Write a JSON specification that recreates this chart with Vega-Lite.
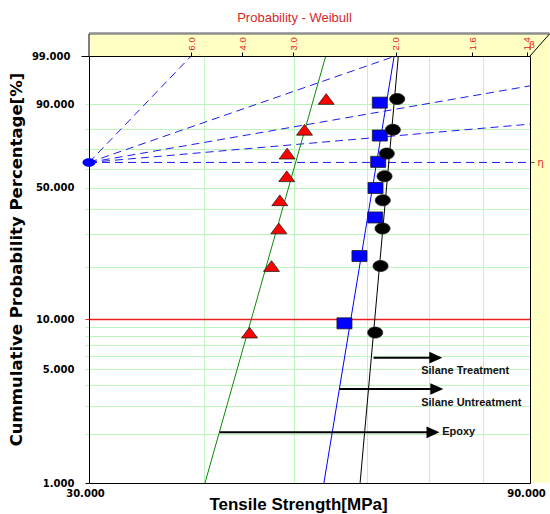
{
  "$schema": "https://vega.github.io/schema/vega-lite/v6.json",
  "width": 441,
  "height": 427,
  "autosize": {"type": "none"},
  "padding": {"left": 89, "top": 56, "right": 20, "bottom": 31},
  "background": "white",
  "config": {"view": {"stroke": null}},
  "title": {"text": "Probability - Weibull", "font": "Liberation Sans", "fontSize": 13, "fontWeight": "normal", "color": "#d42a2a", "anchor": "middle", "dx": -15, "dy": 15, "baseline": "alphabetic", "offset": 12},
  "datasets": {
    "bands": [
      {"x1": 30, "x2": 94.5, "q1": 1.52718, "q2": 1.845},
      {"x1": 90, "x2": 94.5, "q1": -4.60015, "q2": 1.52718}
    ],
    "topline": [{"x1": 30, "x2": 94.5, "q": 1.849}],
    "edges": [
      {"x1": 30, "x2": 30, "q1": 1.52718, "q2": 1.845},
      {"x1": 90, "x2": 94.5, "q1": 1.52718, "q2": 1.845}
    ],
    "beta": [
      {"beta": 6, "x1": 30, "q1": 0, "x2": 38.696, "q2": 1.52718},
      {"beta": 2, "x1": 30, "q1": 0, "x2": 64.377, "q2": 1.52718},
      {"beta": 1, "x1": 30, "q1": 0, "x2": 90, "q2": 1.09861},
      {"beta": 0.5, "x1": 30, "q1": 0, "x2": 90, "q2": 0.54931},
      {"beta": 0, "x1": 30, "q1": 0, "x2": 90, "q2": 0}
    ],
    "pivot": [{"x": 30, "q": 0}],
    "fits": [
      {"series": "Epoxy", "x1": 40.05, "q1": -4.60015, "x2": 54.11, "q2": 1.52718},
      {"series": "Silane Untreatment", "x1": 53.86, "q1": -4.60015, "x2": 64.16, "q2": 1.52718},
      {"series": "Silane Treatment", "x1": 58.94, "q1": -4.60015, "x2": 64.83, "q2": 1.52718}
    ],
    "arrows": [
      {"label": "Silane Treatment", "xs": 60.95, "xe": 71.18, "q": -2.8022, "tx": 68.63, "tq": -2.993},
      {"label": "Silane Untreatment", "xs": 56.0, "xe": 71.36, "q": -3.2513, "tx": 68.63, "tq": -3.4565},
      {"label": "Epoxy", "xs": 41.53, "xe": 70.68, "q": -3.8726, "tx": 72.32, "tq": -3.8726}
    ],
    "betaLabel": [{"x": 90.45, "q": 1.6922, "t": "β"}],
    "points": [
      {"series": "Epoxy", "strength": 44.75, "F": 8.33, "q": -2.44172},
      {"series": "Epoxy", "strength": 47.27, "F": 20.24, "q": -1.48667},
      {"series": "Epoxy", "strength": 48.14, "F": 32.14, "q": -0.94734},
      {"series": "Epoxy", "strength": 48.26, "F": 44.05, "q": -0.54358},
      {"series": "Epoxy", "strength": 49.10, "F": 55.95, "q": -0.19858},
      {"series": "Epoxy", "strength": 49.15, "F": 67.86, "q": 0.12662},
      {"series": "Epoxy", "strength": 51.32, "F": 79.76, "q": 0.46849},
      {"series": "Epoxy", "strength": 54.17, "F": 91.67, "q": 0.91024},
      {"series": "Silane Untreatment", "strength": 56.69, "F": 9.46, "q": -2.30887},
      {"series": "Silane Untreatment", "strength": 58.85, "F": 22.97, "q": -1.34317},
      {"series": "Silane Untreatment", "strength": 61.20, "F": 36.49, "q": -0.78986},
      {"series": "Silane Untreatment", "strength": 61.25, "F": 50.0, "q": -0.36651},
      {"series": "Silane Untreatment", "strength": 61.66, "F": 63.51, "q": 0.00819},
      {"series": "Silane Untreatment", "strength": 61.91, "F": 77.03, "q": 0.38584},
      {"series": "Silane Untreatment", "strength": 61.91, "F": 90.54, "q": 0.85788},
      {"series": "Silane Treatment", "strength": 61.20, "F": 8.33, "q": -2.44172},
      {"series": "Silane Treatment", "strength": 62.02, "F": 20.24, "q": -1.48667},
      {"series": "Silane Treatment", "strength": 62.33, "F": 32.14, "q": -0.94734},
      {"series": "Silane Treatment", "strength": 62.37, "F": 44.05, "q": -0.54358},
      {"series": "Silane Treatment", "strength": 62.64, "F": 55.95, "q": -0.19858},
      {"series": "Silane Treatment", "strength": 63.00, "F": 67.86, "q": 0.12662},
      {"series": "Silane Treatment", "strength": 63.95, "F": 79.76, "q": 0.46849},
      {"series": "Silane Treatment", "strength": 64.65, "F": 91.67, "q": 0.91024}
    ]
  },
  "layer": [
    {
      "data": {"name": "bands"},
      "mark": {"type": "rect", "fill": "#ffffc4", "stroke": null},
      "encoding": {
        "x": {"field": "x1", "type": "quantitative", "scale": {"type": "log", "domain": [30, 90], "nice": false}, "axis": null},
        "x2": {"field": "x2"},
        "y": {"field": "q1", "type": "quantitative", "scale": {"domain": [-4.60015, 1.52718], "nice": false, "zero": false}, "axis": null},
        "y2": {"field": "q2"}
      }
    },
    {
      "data": {"name": "topline"},
      "mark": {"type": "rule", "color": "#8e8e8e", "strokeWidth": 2.5},
      "encoding": {
        "x": {"field": "x1", "type": "quantitative", "scale": {"type": "log", "domain": [30, 90], "nice": false}, "axis": null},
        "x2": {"field": "x2"},
        "y": {"field": "q", "type": "quantitative", "scale": {"domain": [-4.60015, 1.52718], "nice": false, "zero": false}, "axis": null}
      }
    },
    {
      "data": {"name": "edges"},
      "mark": {"type": "rule", "color": "black", "strokeWidth": 1},
      "encoding": {
        "x": {"field": "x1", "type": "quantitative", "scale": {"type": "log", "domain": [30, 90], "nice": false}, "axis": null},
        "x2": {"field": "x2"},
        "y": {"field": "q1", "type": "quantitative", "scale": {"domain": [-4.60015, 1.52718], "nice": false, "zero": false}, "axis": null},
        "y2": {"field": "q2"}
      }
    },
    {
      "data": {"name": "beta"},
      "mark": {"type": "rule", "color": "#1c1cf0", "strokeWidth": 1, "strokeDash": [8, 5]},
      "encoding": {
        "x": {"field": "x1", "type": "quantitative", "scale": {"type": "log", "domain": [30, 90], "nice": false},
          "axis": {"orient": "top", "values": [38.696, 43.947, 49.91, 64.377, 77.92, 89.3],
            "labelExpr": "datum.value < 40 ? '6.0' : datum.value < 45 ? '4.0' : datum.value < 55 ? '3.0' : datum.value < 70 ? '2.0' : datum.value < 80 ? '1.6' : '1.4'",
            "labelAngle": 270, "labelAlign": "left", "labelBaseline": "middle", "labelColor": "#e02020", "labelFont": "Liberation Sans", "labelFontSize": 9.5,
            "labelPadding": 2, "ticks": true, "tickSize": 4, "tickColor": "black", "domain": true, "domainColor": "black", "grid": false, "title": null,
            "zindex": 1, "labelFlush": false, "labelOverlap": false, "labelBound": false}},
        "x2": {"field": "x2"},
        "y": {"field": "q1", "type": "quantitative", "scale": {"domain": [-4.60015, 1.52718], "nice": false, "zero": false}, "axis": null},
        "y2": {"field": "q2"}
      }
    },
    {
      "data": {"name": "pivot"},
      "mark": {"type": "point", "filled": true, "fill": "#0000ff", "opacity": 1, "size": 169, "shape": "M-1,0A1,0.65,0,1,0,1,0A1,0.65,0,1,0,-1,0Z"},
      "encoding": {
        "x": {"field": "x", "type": "quantitative", "scale": {"type": "log", "domain": [30, 90], "nice": false}, "axis": null},
        "y": {"field": "q", "type": "quantitative", "scale": {"domain": [-4.60015, 1.52718], "nice": false, "zero": false},
          "axis": {"orient": "right", "values": [0], "labelExpr": "'η'", "labelColor": "#e02020", "labelFont": "DejaVu Sans", "labelFontSize": 10,
            "labelPadding": 3, "ticks": true, "tickSize": 4, "tickColor": "#606060", "domain": true, "domainColor": "black", "grid": false, "title": null, "zindex": 1}}
      }
    },
    {
      "data": {"name": "fits"},
      "mark": {"type": "rule", "strokeWidth": 1},
      "encoding": {
        "x": {"field": "x1", "type": "quantitative", "scale": {"type": "log", "domain": [30, 90], "nice": false}, "axis": null},
        "x2": {"field": "x2"},
        "y": {"field": "q1", "type": "quantitative", "scale": {"domain": [-4.60015, 1.52718], "nice": false, "zero": false}, "axis": null},
        "y2": {"field": "q2"},
        "stroke": {"field": "series", "type": "nominal", "scale": {"domain": ["Epoxy", "Silane Untreatment", "Silane Treatment"], "range": ["#0a8a0a", "#0000ff", "#000000"]}, "legend": null}
      }
    },
    {
      "data": {"name": "arrows"},
      "mark": {"type": "rule", "color": "black", "strokeWidth": 2},
      "encoding": {
        "x": {"field": "xs", "type": "quantitative", "scale": {"type": "log", "domain": [30, 90], "nice": false}, "axis": null},
        "x2": {"field": "xe"},
        "y": {"field": "q", "type": "quantitative", "scale": {"domain": [-4.60015, 1.52718], "nice": false, "zero": false}, "axis": null}
      }
    },
    {
      "data": {"name": "arrows"},
      "mark": {"type": "point", "filled": true, "fill": "black", "opacity": 1, "size": 169, "shape": "M-1,-0.9L1,0L-1,0.9Z"},
      "encoding": {
        "x": {"field": "xe", "type": "quantitative", "scale": {"type": "log", "domain": [30, 90], "nice": false}, "axis": null},
        "y": {"field": "q", "type": "quantitative", "scale": {"domain": [-4.60015, 1.52718], "nice": false, "zero": false}, "axis": null}
      }
    },
    {
      "data": {"name": "arrows"},
      "mark": {"type": "text", "align": "left", "baseline": "middle", "font": "Liberation Sans", "fontSize": 11, "fontWeight": "bold", "color": "#111111"},
      "encoding": {
        "x": {"field": "tx", "type": "quantitative", "scale": {"type": "log", "domain": [30, 90], "nice": false}, "axis": null},
        "y": {"field": "tq", "type": "quantitative", "scale": {"domain": [-4.60015, 1.52718], "nice": false, "zero": false}, "axis": null},
        "text": {"field": "label"}
      }
    },
    {
      "data": {"name": "betaLabel"},
      "mark": {"type": "text", "align": "center", "baseline": "middle", "font": "Liberation Sans", "fontSize": 9, "color": "#e02020"},
      "encoding": {
        "x": {"field": "x", "type": "quantitative", "scale": {"type": "log", "domain": [30, 90], "nice": false}, "axis": null},
        "y": {"field": "q", "type": "quantitative", "scale": {"domain": [-4.60015, 1.52718], "nice": false, "zero": false}, "axis": null},
        "text": {"field": "t"}
      }
    },
    {
      "data": {"name": "points"},
      "mark": {"type": "point", "filled": true, "opacity": 1, "size": 256, "stroke": "#202020", "strokeWidth": 0.8},
      "encoding": {
        "x": {"field": "strength", "type": "quantitative", "scale": {"type": "log", "domain": [30, 90], "nice": false},
          "axis": {"orient": "bottom", "values": [30, 40, 50, 60, 70, 80, 90],
            "labelExpr": "datum.value == 30 || datum.value == 90 ? format(datum.value, '.3f') : ''",
            "labelFlush": false, "labelOverlap": false, "labelBound": false, "ticks": false, "labelPadding": 5, "labelOffset": -4,
            "labelFont": "DejaVu Sans", "labelFontWeight": "bold", "labelFontSize": 10, "labelColor": "black",
            "grid": true, "gridColor": "#bdf5bd", "gridWidth": 1, "domain": true, "domainColor": "black",
            "title": "Tensile Strength[MPa]", "titleFont": "Liberation Sans", "titleFontSize": 17, "titleFontWeight": "bold", "titleColor": "black",
            "titleX": 209, "titleY": 26.5, "titleAlign": "center", "titleBaseline": "alphabetic"}},
        "y": {"field": "q", "type": "quantitative", "scale": {"domain": [-4.60015, 1.52718], "nice": false, "zero": false},
          "axis": {"orient": "left",
            "values": [-4.60015, -3.90194, -3.49137, -3.19853, -2.9702, -2.78263, -2.62319, -2.48433, -2.36125, -2.25037, -1.49994, -1.03093, -0.67173, -0.36651, -0.08742, 0.18563, 0.47588, 0.83403, 1.52718],
            "labelExpr": "indexof([1, 5, 10, 50, 90, 99], round(100 * (1 - exp(-exp(datum.value))))) >= 0 ? format(100 * (1 - exp(-exp(datum.value))), '.3f') : ''",
            "labelOverlap": false, "labelBound": false, "labelFlush": false,
            "labelFont": "DejaVu Sans", "labelFontWeight": "bold", "labelFontSize": 10, "labelColor": "black", "labelPadding": 11, "labelBaseline": "middle",
            "ticks": true,
            "tickSize": {"condition": {"test": "datum.value > 1.5", "value": 8}, "value": 4},
            "tickColor": {"condition": [{"test": "abs(datum.value + 2.25037) < 0.001", "value": "#e82020"}, {"test": "datum.value > 1.5 || datum.value < -4.5", "value": "black"}], "value": "#bdf5bd"},
            "grid": true,
            "gridColor": {"condition": {"test": "abs(datum.value + 2.25037) < 0.001", "value": "#e82020"}, "value": "#bdf5bd"},
            "gridWidth": {"condition": {"test": "abs(datum.value + 2.25037) < 0.001", "value": 1.5}, "value": 1},
            "domain": true, "domainColor": "black",
            "title": "Cummulative Probability Percentage[%]", "titleFont": "DejaVu Sans", "titleFontSize": 16.5, "titleFontWeight": "bold", "titleColor": "black",
            "titleX": -68, "titleY": 203, "titleAngle": 270, "titleAlign": "center", "titleBaseline": "alphabetic"}},
        "fill": {"field": "series", "type": "nominal", "scale": {"domain": ["Epoxy", "Silane Untreatment", "Silane Treatment"], "range": ["#ff0000", "#0000ff", "#000000"]}, "legend": null},
        "shape": {"field": "series", "type": "nominal", "scale": {"domain": ["Epoxy", "Silane Untreatment", "Silane Treatment"], "range": ["M0,-0.67L1,0.67L-1,0.67Z", "M-0.94,-0.69H0.94V0.69H-0.94Z", "M-0.94,0A0.94,0.69,0,1,0,0.94,0A0.94,0.69,0,1,0,-0.94,0Z"]}, "legend": null}
      }
    }
  ],
  "resolve": {"axis": {"x": "independent", "y": "independent"}}
}
